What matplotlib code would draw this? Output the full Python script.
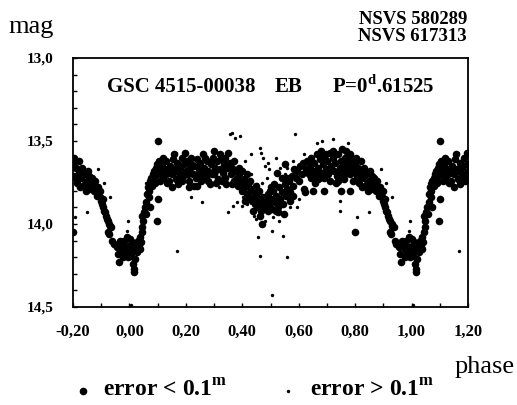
import numpy as np
import matplotlib
matplotlib.use('Agg')
import matplotlib.pyplot as plt

#------------------------------------------------------------------------------#
# Data (phase 0..1)
#------------------------------------------------------------------------------#
# points with error < 0.1 mag
big_phase = [
    # ingress of primary minimum
    0.860, 0.865, 0.870, 0.875, 0.880, 0.885, 0.890, 0.895, 0.899, 0.903, 0.907,
    0.910, 0.914, 0.918, 0.921, 0.925, 0.929, 0.932, 0.936, 0.923, 0.928, 0.940,
    0.945, 0.955, 0.960, 0.963, 0.958, 0.868, 0.878, 0.888, 0.897, 0.905,
    # primary minimum
    0.970, 0.975, 0.980, 0.985, 0.988, 0.992, 0.995, 0.998, 0.000, 0.004, 0.008,
    0.012, 0.015, 0.017, 0.020, 0.023, 0.026, 0.030, 0.033, 0.036, 0.040, 0.043,
    0.046, 0.048, 0.045, 0.050, 0.965, 0.978, 0.990, 0.002, 0.010, 0.018, 0.028,
    0.038,
    # egress
    0.055, 0.060, 0.063, 0.066, 0.070, 0.072, 0.075, 0.078, 0.073, 0.082, 0.085,
    0.088, 0.092, 0.095, 0.097, 0.100, 0.102, 0.104, 0.108, 0.112, 0.058, 0.068,
    0.080, 0.090, 0.098, 0.106, 0.110,
    # maximum I
    0.115, 0.120, 0.125, 0.130, 0.135, 0.140, 0.145, 0.150, 0.155, 0.160, 0.165,
    0.170, 0.175, 0.180, 0.185, 0.190, 0.195, 0.200, 0.205, 0.210, 0.215, 0.220,
    0.225, 0.230, 0.235, 0.240, 0.245, 0.250, 0.255, 0.260, 0.265, 0.270, 0.275,
    0.280, 0.285, 0.290, 0.295, 0.300, 0.305, 0.310, 0.315, 0.320, 0.325, 0.330,
    0.335, 0.340, 0.350, 0.345, 0.212, 0.238, 0.128, 0.148, 0.178, 0.262, 0.302,
    0.118, 0.133, 0.152, 0.158, 0.172, 0.188, 0.198, 0.208, 0.218, 0.228, 0.243,
    0.252, 0.268, 0.278, 0.292, 0.298, 0.308, 0.322, 0.328, 0.338, 0.343,
    # descent to secondary minimum
    0.355, 0.360, 0.365, 0.370, 0.375, 0.380, 0.385, 0.390, 0.395, 0.400, 0.405,
    0.410, 0.415, 0.420, 0.425, 0.430, 0.435, 0.440, 0.445, 0.450, 0.455, 0.460,
    0.469, 0.465, 0.470, 0.475, 0.480, 0.362, 0.372, 0.388, 0.398, 0.408, 0.418,
    0.428, 0.438, 0.448, 0.458, 0.462,
    # secondary minimum
    0.485, 0.490, 0.495, 0.500, 0.505, 0.510, 0.515, 0.520, 0.525, 0.530, 0.535,
    0.540, 0.545, 0.550, 0.555, 0.560, 0.565, 0.570, 0.575, 0.580, 0.522, 0.550,
    0.585, 0.540, 0.498, 0.512, 0.528, 0.492, 0.502, 0.508, 0.518, 0.532, 0.548,
    0.558, 0.568, 0.578,
    # rise
    0.590, 0.595, 0.600, 0.605, 0.610, 0.615, 0.618, 0.622, 0.625, 0.630, 0.635,
    # maximum II
    0.640, 0.645, 0.650, 0.650, 0.655, 0.660, 0.665, 0.670, 0.675, 0.680, 0.685,
    0.690, 0.690, 0.695, 0.700, 0.705, 0.710, 0.715, 0.720, 0.725, 0.730, 0.735,
    0.740, 0.745, 0.750, 0.750, 0.755, 0.760, 0.765, 0.770, 0.775, 0.780, 0.780,
    0.785, 0.790, 0.795, 0.800, 0.800, 0.805, 0.810, 0.815, 0.820, 0.825, 0.830,
    0.835, 0.840, 0.845, 0.850, 0.855, 0.672, 0.708, 0.738, 0.772, 0.642, 0.658,
    0.668, 0.678, 0.688, 0.698, 0.712, 0.722, 0.732, 0.742, 0.752, 0.762, 0.768,
    0.782, 0.792, 0.802, 0.812, 0.822, 0.832, 0.842, 0.852, 0.858,
]
big_mag = [
    13.74, 13.78, 13.76, 13.80, 13.78, 13.83, 13.82, 13.84, 13.86, 13.88, 13.90,
    13.92, 13.93, 13.95, 13.97, 13.98, 14.00, 14.01, 14.02, 14.05, 14.06, 14.10,
    14.12, 14.14, 14.18, 14.23, 14.13, 13.72, 13.74, 13.78, 13.80, 13.85,
    14.12, 14.15, 14.10, 14.18, 14.14, 14.08, 14.20, 14.16, 14.13, 14.19, 14.11,
    14.24, 14.27, 14.29, 14.15, 14.12, 14.17, 14.10, 14.14, 14.08, 14.11, 14.05,
    14.02, 13.98, 13.95, 13.93, 14.10, 14.20, 14.17, 14.09, 14.16, 14.21, 14.13,
    14.15,
    13.90, 13.87, 13.82, 13.78, 13.80, 13.74, 13.76, 13.72, 13.90, 13.70, 13.73,
    13.68, 13.71, 13.66, 13.98, 13.85, 13.50, 13.69, 13.66, 13.70, 13.94, 13.84,
    13.77, 13.75, 13.64, 13.62, 13.74,
    13.64, 13.72, 13.67, 13.62, 13.69, 13.74, 13.65, 13.70, 13.61, 13.67, 13.73,
    13.63, 13.69, 13.66, 13.60, 13.71, 13.64, 13.68, 13.62, 13.74, 13.66, 13.60,
    13.70, 13.65, 13.72, 13.61, 13.67, 13.63, 13.69, 13.58, 13.66, 13.71, 13.62,
    13.68, 13.76, 13.64, 13.60, 13.70, 13.66, 13.62, 13.73, 13.67, 13.61, 13.69,
    13.64, 13.72, 13.57, 13.66, 13.78, 13.77, 13.70, 13.66, 13.71, 13.73, 13.68,
    13.60, 13.75, 13.78, 13.58, 13.76, 13.74, 13.57, 13.70, 13.64, 13.77, 13.70,
    13.74, 13.60, 13.74, 13.70, 13.56, 13.75, 13.58, 13.74, 13.60, 13.76,
    13.63, 13.70, 13.66, 13.74, 13.68, 13.72, 13.77, 13.70, 13.75, 13.80, 13.73,
    13.78, 13.82, 13.76, 13.84, 13.79, 13.86, 13.81, 13.88, 13.83, 13.90, 13.85,
    14.00, 13.92, 13.87, 13.84, 13.90, 13.76, 13.62, 13.66, 13.68, 13.86, 13.70,
    13.74, 13.92, 13.77, 13.80, 13.95,
    13.86, 13.82, 13.89, 13.85, 13.91, 13.80, 13.87, 13.83, 13.90, 13.78, 13.85,
    13.81, 13.88, 13.76, 13.83, 13.79, 13.74, 13.81, 13.71, 13.77, 13.69, 13.64,
    13.67, 13.72, 13.80, 13.76, 13.93, 13.92, 13.78, 13.86, 13.92, 13.88, 13.94,
    13.72, 13.86, 13.83,
    13.72, 13.68, 13.74, 13.65, 13.70, 13.63, 13.79, 13.81, 13.67, 13.62, 13.70,
    13.65, 13.60, 13.80, 13.68, 13.63, 13.70, 13.58, 13.66, 13.61, 13.69, 13.64,
    13.80, 13.59, 13.67, 13.62, 13.70, 13.57, 13.65, 13.60, 13.68, 13.63, 13.71,
    13.58, 13.66, 13.80, 13.62, 13.69, 13.64, 13.60, 13.67, 13.62, 13.80, 13.70,
    13.65, 13.61, 13.68, 14.05, 13.64, 13.71, 13.66, 13.75, 13.69, 13.78, 13.72,
    13.77, 13.70, 13.80, 13.74, 13.79, 13.72, 13.67, 13.74, 13.69, 13.72, 13.75,
    13.73, 13.56, 13.72, 13.58, 13.74, 13.56, 13.75, 13.70, 13.55, 13.73, 13.56,
    13.58, 13.74, 13.60, 13.72, 13.62, 13.66, 13.76, 13.68, 13.71,
]

# points with error > 0.1 mag
small_phase = [
    0.168, 0.220, 0.256, 0.357, 0.365, 0.375, 0.392, 0.350, 0.367, 0.380, 0.399,
    0.463, 0.468, 0.474, 0.491, 0.493, 0.456, 0.463, 0.504, 0.504, 0.545, 0.557,
    0.587, 0.593, 0.664, 0.682, 0.720, 0.775, 0.746, 0.746, 0.806, 0.848, 0.890,
    0.995, 0.990, 0.165, 0.005, 0.410, 0.430, 0.440, 0.450, 0.470, 0.480, 0.510,
    0.520, 0.530, 0.560, 0.570, 0.600, 0.620, 0.432, 0.482, 0.910, 0.930, 0.060,
    0.286, 0.318, 0.402, 0.418, 0.436, 0.452, 0.488, 0.535, 0.552, 0.578,
]
small_mag = [
    14.16, 13.84, 13.87, 13.46, 13.45, 13.48, 13.47, 13.93, 13.89, 13.87, 13.89,
    13.54, 13.57, 13.60, 13.63, 13.67, 14.08, 14.19, 14.04, 14.43, 14.07, 14.20,
    13.46, 13.90, 13.51, 13.50, 13.49, 13.51, 13.86, 13.92, 13.96, 13.93, 13.67,
    13.98, 14.04, 13.57, 14.49, 13.62, 13.58, 13.95, 13.97, 13.75, 13.98, 13.96,
    13.60, 13.98, 13.66, 13.90, 13.85, 13.58, 13.70, 13.65, 13.75, 13.84, 13.75,
    13.76, 13.78, 13.84, 13.88, 13.80, 13.76, 13.72, 13.66, 13.70, 13.62,
]

x_ticks = [-0.2, 0.0, 0.2, 0.4, 0.6, 0.8, 1.0, 1.2]
y_ticks = [13.0, 13.5, 14.0, 14.5]


def fold(ph, mg):
    # repeat the cycle so that phases -0.2..1.2 are covered
    ph = np.array(ph)
    mg = np.array(mg)
    lo = ph >= 0.8
    hi = ph <= 0.2
    return (np.concatenate([ph, ph[lo] - 1, ph[hi] + 1]),
            np.concatenate([mg, mg[lo], mg[hi]]))


bx, by = fold(big_phase, big_mag)
sx, sy = fold(small_phase, small_mag)

#------------------------------------------------------------------------------#
# Plot
#------------------------------------------------------------------------------#
plt.rcParams['font.family'] = 'Liberation Serif'
plt.rcParams['mathtext.fontset'] = 'custom'
plt.rcParams['mathtext.rm'] = 'Liberation Serif'
plt.rcParams['mathtext.bf'] = 'Liberation Serif:bold'

W, H = 517, 405
fig = plt.figure(figsize=(W / 100, H / 100), dpi=100)
ax = fig.add_axes([73 / W, 1 - 307 / H, 395 / W, 249 / H])

ax.scatter(bx, by, s=30, c='black', linewidths=0)
ax.scatter(sx, sy, s=6, c='black', linewidths=0)

ax.set_xlim(-0.2, 1.2)
ax.set_ylim(14.5, 13.0)
ax.set_xticks(x_ticks)
ax.set_xticklabels(['{:.2f}'.format(v).replace('.', ',') for v in x_ticks],
                   fontsize=12, fontweight='bold')
ax.set_yticks(y_ticks)
ax.set_yticklabels(['{:.1f}'.format(v).replace('.', ',') for v in y_ticks],
                   fontsize=11, fontweight='bold')
ax.set_xticks(np.arange(-0.2, 1.21, 0.1), minor=True)
ax.set_yticks(np.arange(13.0, 14.51, 0.1), minor=True)
ax.tick_params(which='both', direction='in', length=3, width=1)
ax.tick_params(axis='x', which='major', pad=12)
ax.tick_params(axis='y', which='major', pad=14)
for sp in ax.spines.values():
    sp.set_linewidth(1.3)

# star name inside the frame
fig.text(107 / W, 1 - 87 / H, 'GSC 4515-00038', fontsize=15, fontweight='bold',
         va='center', ha='left')
fig.text(275 / W, 1 - 87 / H, 'EB', fontsize=15, fontweight='bold',
         va='center', ha='left')
fig.text(332 / W, 1 - 87 / H, 'P=0$^{\\mathbf{d}}$.61525', fontsize=15,
         fontweight='bold', va='center', ha='left')

fig.text(8 / W, 1 - 27 / H, 'mag', fontsize=19, va='center', ha='left')
fig.text(515 / W, 1 - 367 / H, 'phase', fontsize=19, va='center', ha='right')
fig.text(467 / W, 1 - 28 / H, 'NSVS 580289\nNSVS 617313', fontsize=13.5,
         fontweight='bold', va='center', ha='right', linespacing=1.0)

# legend line: same markers as in the plot
ax.scatter([83 / W], [1 - 391 / H], s=30, c='black', linewidths=0,
           transform=fig.transFigure, clip_on=False)
ax.scatter([288 / W], [1 - 391 / H], s=6, c='black', linewidths=0,
           transform=fig.transFigure, clip_on=False)
fig.text(103 / W, 1 - 391 / H, 'error < 0.1$^{\\mathbf{m}}$', fontsize=17,
         fontweight='bold', va='center', ha='left')
fig.text(310 / W, 1 - 391 / H, 'error > 0.1$^{\\mathbf{m}}$', fontsize=17,
         fontweight='bold', va='center', ha='left')

fig.savefig('out.png', dpi=100)
